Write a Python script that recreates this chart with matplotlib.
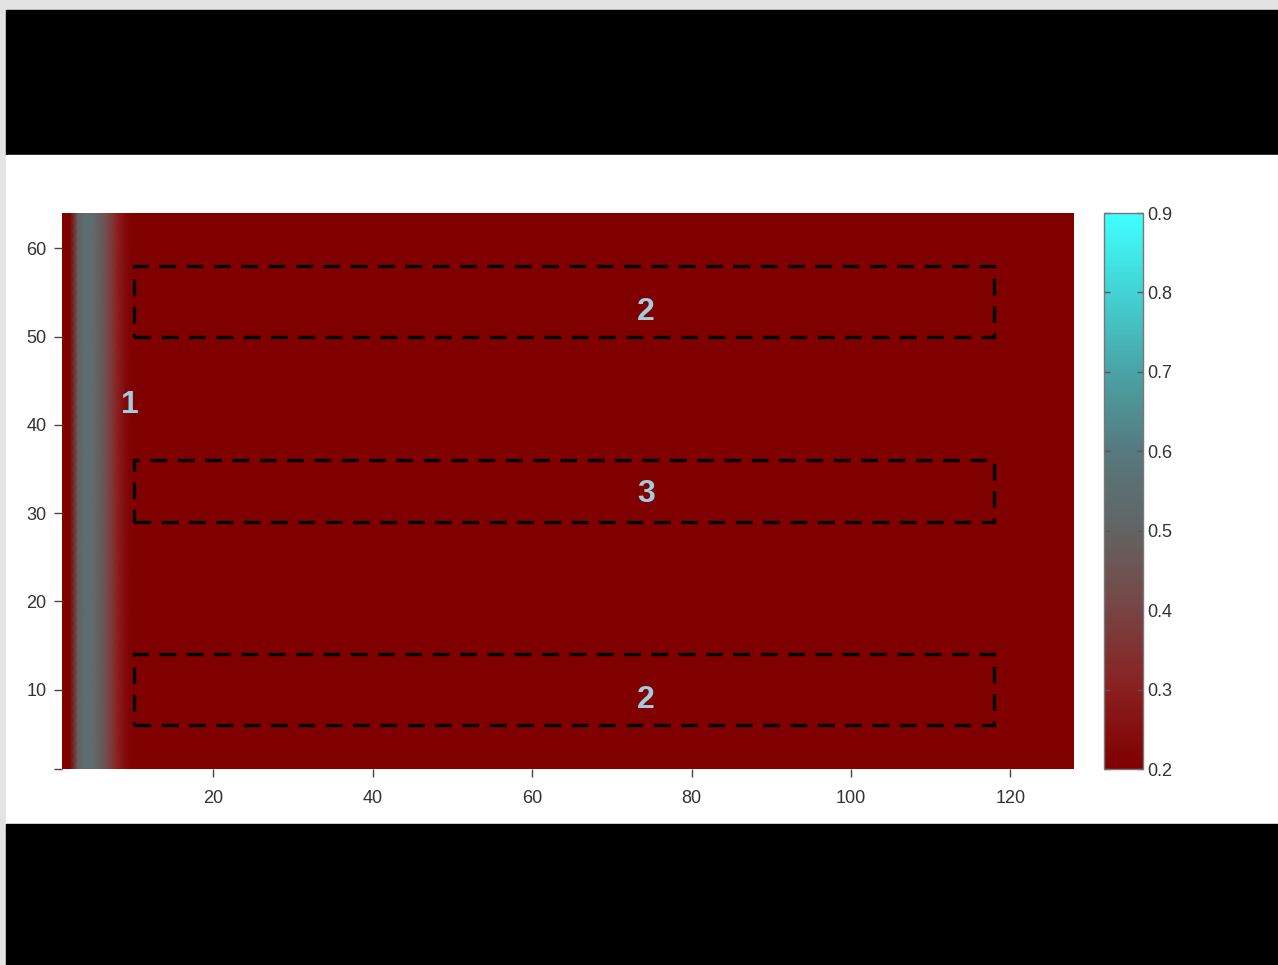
import numpy as np
import matplotlib.pyplot as plt
from matplotlib.colors import LinearSegmentedColormap
from matplotlib.patches import Rectangle

plt.rcParams['font.family'] = ['Liberation Sans', 'DejaVu Sans']

# grid size of the field
nx, ny = 128, 64

# concentration across the first columns (constant along y), background after that
profile_head = [0.2, 0.2, 0.5, 0.56, 0.53, 0.47, 0.39, 0.3, 0.23, 0.2]
background = 0.2

# dashed regions: (x0, x1, y0, y1)
regions = [(10, 118, 50, 58), (10, 118, 29, 36), (10, 118, 6, 14)]

# region labels: (text, x, y)
labels = [("1", 9.5, 42.3), ("2", 74.3, 52.8), ("3", 74.3, 32.2), ("2", 74.3, 8.8)]

xticks = [20, 40, 60, 80, 100, 120]
yticks = [1, 10, 20, 30, 40, 50, 60]
cticks = [0.2, 0.3, 0.4, 0.5, 0.6, 0.7, 0.8, 0.9]

profile = np.full(nx, background)
profile[:len(profile_head)] = profile_head
field = np.tile(profile, (ny, 1))
xs = np.arange(1, nx + 1)
ys = np.arange(1, ny + 1)

cmap = LinearSegmentedColormap.from_list(
    'redcyan', ['#800000', '#8a1f1f', '#784444', '#636363',
                '#56797d', '#4aa3a6', '#42d2d2', '#40ffff'])

W, H = 1278, 965
fig = plt.figure(figsize=(W / 100, H / 100), dpi=100)
fig.patch.set_facecolor('#e3e3e3')

# frame bands around the plot
def band(x0, y0, x1, y1, color):
    fig.add_artist(Rectangle((x0 / W, 1 - y1 / H), (x1 - x0) / W, (y1 - y0) / H,
                             transform=fig.transFigure, color=color, zorder=0))

band(6, 10, W, 155, 'black')
band(6, 155, W, 824, 'white')
band(6, 824, W, H, 'black')

ax = fig.add_axes([62 / W, 1 - 769 / H, (1074 - 62) / W, (769 - 213) / H])
mesh = ax.pcolormesh(xs, ys, field, cmap=cmap, vmin=0.2, vmax=0.9, shading='gouraud')
ax.set_xlim(1, nx)
ax.set_ylim(1, ny)

for x0, x1, y0, y1 in regions:
    ax.add_patch(Rectangle((x0, y0), x1 - x0, y1 - y0, fill=False, edgecolor='black',
                           linewidth=2.4, linestyle=(0, (5, 3.2))))

for txt, x, y in labels:
    ax.text(x, y, txt, color='#a3cbdd', fontsize=23, fontweight='bold',
            ha='center', va='center')

for s in ax.spines.values():
    s.set_visible(False)
ax.set_xticks(xticks)
ax.set_yticks(yticks)
ax.set_yticklabels([''] + [str(t) for t in yticks[1:]])
ax.tick_params(axis='both', direction='out', length=6, width=1, color='#444444',
               labelcolor='#333333', labelsize=13)
ax.tick_params(axis='x', pad=9)
ax.tick_params(axis='y', pad=5)

cax = fig.add_axes([1104 / W, 1 - 769 / H, (1143 - 1104) / W, (769 - 213) / H])
cb = fig.colorbar(mesh, cax=cax)
cb.set_ticks(cticks)
cb.ax.set_yticklabels([f'{t:.1f}' for t in cticks])
cb.ax.tick_params(direction='in', length=4, width=1, color='#555555',
                  labelcolor='#333333', labelsize=13, pad=3, left=True)
cb.outline.set_edgecolor('#777777')
cb.outline.set_linewidth(1)

fig.savefig('out.png', dpi=100, facecolor=fig.get_facecolor())
